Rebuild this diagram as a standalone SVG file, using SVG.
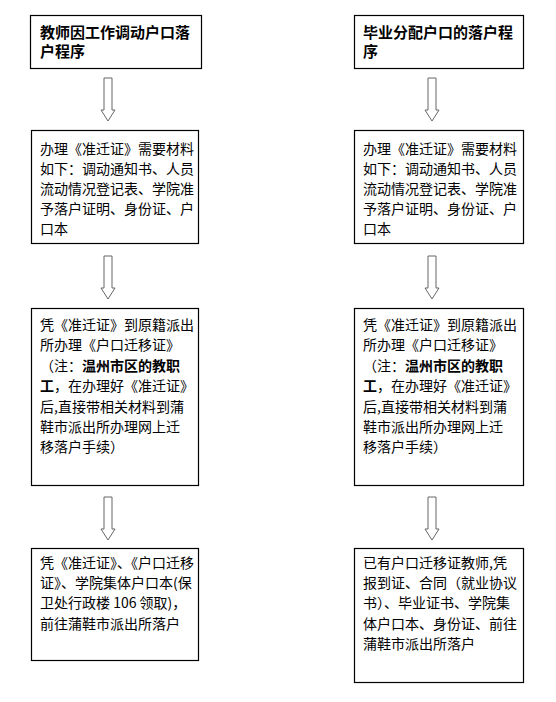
<svg xmlns="http://www.w3.org/2000/svg" xmlns:xlink="http://www.w3.org/1999/xlink" width="556" height="702" viewBox="0 0 556 702">
<style>
.box{fill:#fff;stroke:#000;stroke-width:1.2}
.t{font-family:"Noto Sans CJK SC","Liberation Sans",sans-serif;font-size:14px;fill:#000}
.h{font-family:"Noto Sans CJK SC","Liberation Sans",sans-serif;font-size:15px;font-weight:bold;fill:#000}
.b{font-weight:bold}
.arr{fill:#fff;stroke:#666;stroke-width:1}
</style>
<defs>
<path id="arrow" class="arr" d="M-4,0 H4 V32 H7 L0,43 L-7,32 H-4 Z"/>
</defs>
<rect width="556" height="702" fill="#fff"/>
<g id="connectors">
<use xlink:href="#arrow" x="108" y="78"/>
<use xlink:href="#arrow" x="108" y="256"/>
<use xlink:href="#arrow" x="108" y="497"/>
<use xlink:href="#arrow" x="432" y="78"/>
<use xlink:href="#arrow" x="432" y="256"/>
<use xlink:href="#arrow" x="432" y="497"/>
</g>
<g id="L1">
<rect class="box" x="30.5" y="15.5" width="171" height="53"/>
<text class="h" x="40" y="38">教师因工作调动户口落</text>
<text class="h" x="40" y="57">户程序</text>
</g>
<g id="L2">
<rect class="box" x="31.5" y="130.5" width="167" height="113"/>
<text class="t" x="40" y="154">办理《准迁证》需要材料</text>
<text class="t" x="40" y="174">如下：调动通知书、人员</text>
<text class="t" x="40" y="194">流动情况登记表、学院准</text>
<text class="t" x="40" y="214">予落户证明、身份证、户</text>
<text class="t" x="40" y="234">口本</text>
</g>
<g id="L3">
<rect class="box" x="31.5" y="308.5" width="167" height="177"/>
<text class="t" x="40" y="330">凭《准迁证》到原籍派出</text>
<text class="t" x="40" y="350">所办理《户口迁移证》</text>
<text class="t" x="40" y="371">（注：<tspan class="b">温州市区的教职</tspan></text>
<text class="t" x="40" y="391"><tspan class="b">工</tspan>，在办理好《准迁证》</text>
<text class="t" x="40" y="412">后,直接带相关材料到蒲</text>
<text class="t" x="40" y="432">鞋市派出所办理网上迁</text>
<text class="t" x="40" y="452">移落户手续）</text>
</g>
<g id="L4">
<rect class="box" x="31.5" y="548.5" width="167" height="112"/>
<text class="t" x="40" y="568">凭《准迁证》、《户口迁移</text>
<text class="t" x="40" y="588">证》、学院集体户口本(保</text>
<text class="t" x="40" y="608">卫处行政楼 106 领取)，</text>
<text class="t" x="40" y="629">前往蒲鞋市派出所落户</text>
</g>
<g id="R1">
<rect class="box" x="354.5" y="15.5" width="169" height="53"/>
<text class="h" x="363" y="38">毕业分配户口的落户程</text>
<text class="h" x="363" y="57">序</text>
</g>
<g id="R2">
<rect class="box" x="354.5" y="130.5" width="169" height="113"/>
<text class="t" x="363" y="154">办理《准迁证》需要材料</text>
<text class="t" x="363" y="174">如下：调动通知书、人员</text>
<text class="t" x="363" y="194">流动情况登记表、学院准</text>
<text class="t" x="363" y="214">予落户证明、身份证、户</text>
<text class="t" x="363" y="234">口本</text>
</g>
<g id="R3">
<rect class="box" x="354.5" y="308.5" width="169" height="177"/>
<text class="t" x="363" y="330">凭《准迁证》到原籍派出</text>
<text class="t" x="363" y="350">所办理《户口迁移证》</text>
<text class="t" x="363" y="371">（注：<tspan class="b">温州市区的教职</tspan></text>
<text class="t" x="363" y="391"><tspan class="b">工</tspan>，在办理好《准迁证》</text>
<text class="t" x="363" y="412">后,直接带相关材料到蒲</text>
<text class="t" x="363" y="432">鞋市派出所办理网上迁</text>
<text class="t" x="363" y="452">移落户手续）</text>
</g>
<g id="R4">
<rect class="box" x="354.5" y="548.5" width="169" height="134"/>
<text class="t" x="363" y="568">已有户口迁移证教师,凭</text>
<text class="t" x="363" y="588">报到证、合同（就业协议</text>
<text class="t" x="363" y="608">书）、毕业证书、学院集</text>
<text class="t" x="363" y="629">体户口本、身份证、前往</text>
<text class="t" x="363" y="649">蒲鞋市派出所落户</text>
</g>
</svg>
